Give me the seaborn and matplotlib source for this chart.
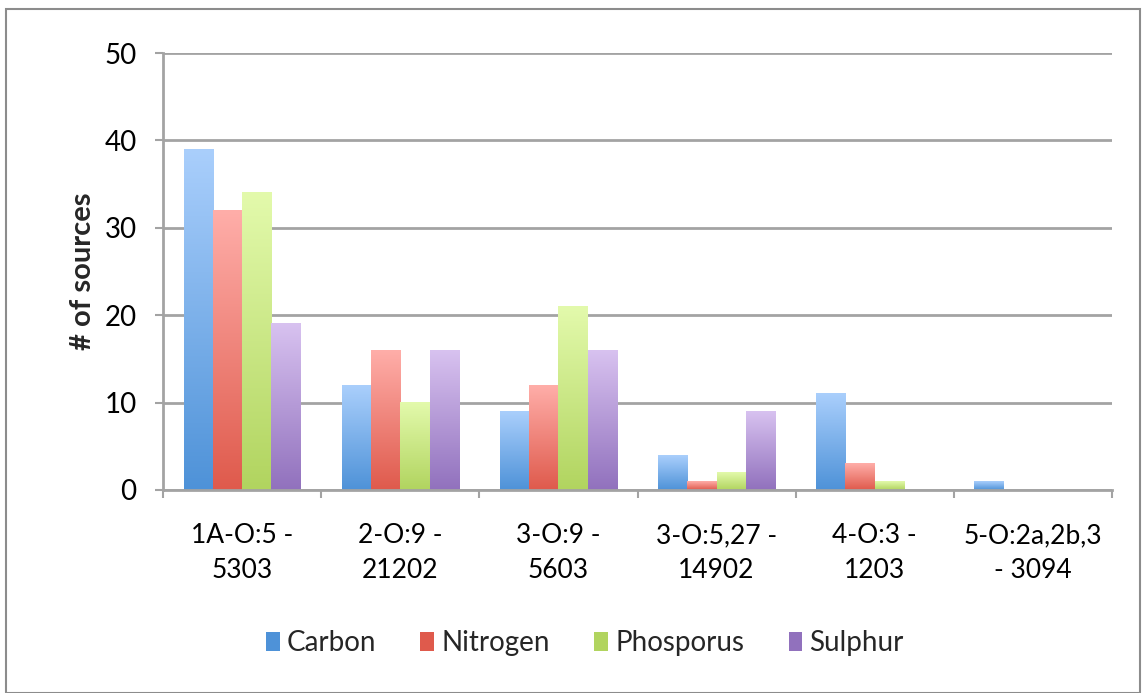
import numpy as np
import pandas as pd
import matplotlib
matplotlib.use("Agg")
import matplotlib.pyplot as plt
from matplotlib.colors import LinearSegmentedColormap
from matplotlib.patches import Rectangle
import seaborn as sns

categories = ["1A-O:5 -\n5303", "2-O:9 -\n21202", "3-O:9 -\n5603",
              "3-O:5,27 -\n14902", "4-O:3 -\n1203", "5-O:2a,2b,3\n- 3094"]
series = ["Carbon", "Nitrogen", "Phosporus", "Sulphur"]
carbon = [39, 12, 9, 4, 11, 1]
nitrogen = [32, 16, 12, 1, 3, 0]
phosporus = [34, 10, 21, 2, 1, 0]
sulphur = [19, 16, 16, 9, 0, 0]

# gradient (top, bottom) for each element
shades = {
    "Carbon": ("#aacffc", "#4e92d8"),
    "Nitrogen": ("#ffaea9", "#df5a4c"),
    "Phosporus": ("#e3faac", "#b1d45f"),
    "Sulphur": ("#d8c2f0", "#9171bd"),
}

df = pd.DataFrame({
    "category": categories * 4,
    "element": [s for s in series for _ in categories],
    "count": carbon + nitrogen + phosporus + sulphur,
})

sns.set_theme(style="white")
plt.rcParams["font.family"] = ["Lato", "DejaVu Sans"]

fig = plt.figure(figsize=(11.42, 6.93), dpi=100)
ax = fig.add_axes([163 / 1142, 1 - 490 / 693, (1112 - 163) / 1142, (490 - 53) / 693])

palette = {s: shades[s][1] for s in series}
sns.barplot(data=df, x="category", y="count", hue="element", hue_order=series,
            order=categories, palette=palette, width=0.74, gap=0, ax=ax,
            legend=False, errorbar=None, saturation=1)

# replace flat fills by vertical gradients
for element, container in zip(series, ax.containers):
    top, bottom = shades[element]
    cmap = LinearSegmentedColormap.from_list(element, [bottom, top])
    for bar in container:
        h = bar.get_height()
        bar.set_visible(False)
        if h <= 0:
            continue
        x0 = bar.get_x()
        w = bar.get_width()
        grad = np.linspace(0, 1, 256).reshape(-1, 1)
        ax.imshow(grad, cmap=cmap, origin="lower", aspect="auto",
                  extent=(x0, x0 + w, 0, h), zorder=3, interpolation="bicubic")

ax.set_xlim(-0.5, len(categories) - 0.5)
ax.set_ylim(0, 50)

grid_c = "#a3a3a3"
ax.set_yticks(range(0, 51, 10))
ax.yaxis.grid(True, color=grid_c, linewidth=2)
ax.set_axisbelow(True)
for side in ("top", "right"):
    ax.spines[side].set_visible(False)
for side in ("left", "bottom"):
    ax.spines[side].set_color(grid_c)
    ax.spines[side].set_linewidth(2)
    ax.spines[side].set_zorder(4)

ax.tick_params(axis="y", direction="out", length=6, width=1.5, color=grid_c,
               labelsize=20, pad=13, labelcolor="black", left=True)
ax.set_xticks(np.arange(-0.5, len(categories), 1.0), minor=True)
ax.tick_params(axis="x", which="minor", direction="out", length=6, width=1.5,
               color=grid_c, bottom=True)
ax.tick_params(axis="x", which="major", length=0, labelsize=19, pad=24,
               labelcolor="black")
ax.set_xticks(range(len(categories)))
ax.set_xticklabels(categories, linespacing=1.5)

ax.set_xlabel("")
ax.set_ylabel("# of sources", fontsize=21, fontweight="bold", labelpad=6)

# legend along the bottom
handles = []
for s in series:
    handles.append(Rectangle((0, 0), 1, 1, facecolor=shades[s][1], edgecolor="none"))
fig.legend(handles, series, loc="center", bbox_to_anchor=(0.512, 1 - 643 / 693),
           ncol=4, frameon=False, fontsize=20, handlelength=0.5, handleheight=0.7,
           handletextpad=0.25, columnspacing=1.6)

# outer chart frame
fig.patches.append(Rectangle((6 / 1142, 0), 1 - 8 / 1142, 1 - 9 / 693,
                             transform=fig.transFigure, fill=False,
                             edgecolor="#8c8c8c", linewidth=1.5))

fig.savefig("out.png", dpi=100)
